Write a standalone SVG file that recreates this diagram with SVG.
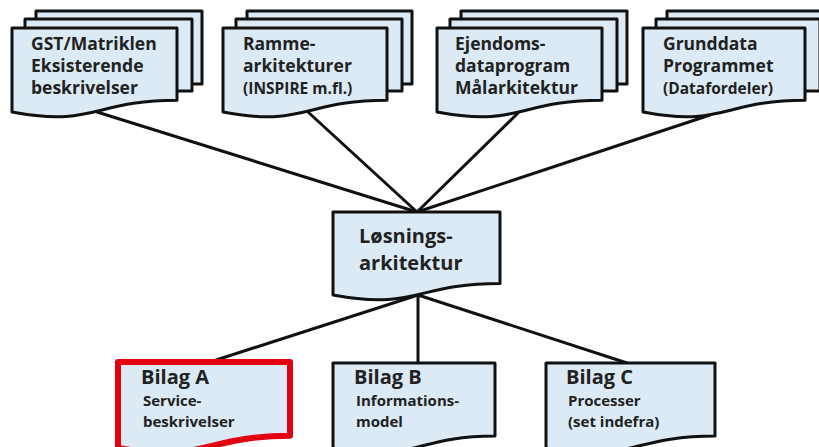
<svg xmlns="http://www.w3.org/2000/svg" width="819" height="447" viewBox="0 0 819 447">
<style>
.doc{fill:#dbeaf4;stroke:#111;stroke-width:3;stroke-linejoin:round}
.red{fill:#dbeaf4;stroke:#e3000f;stroke-width:6;stroke-linejoin:round}
.con{stroke:#111;stroke-width:3;fill:none;stroke-linecap:round}
text{font-family:"Open Sans",Lato,sans-serif;font-weight:bold;fill:#222}
.t{font-size:17.5px}
.s{font-size:15.5px}
.big{font-size:20px}
.b1{font-size:20px}
.b2{font-size:15px}
</style>
<rect width="819" height="447" fill="#fff"/>
<g id="connectors">
<line class="con" x1="97" y1="112" x2="417" y2="212"/>
<line class="con" x1="308" y1="112" x2="417" y2="212"/>
<line class="con" x1="518" y1="113" x2="417" y2="212"/>
<line class="con" x1="710" y1="115" x2="417" y2="212"/>
<line class="con" x1="418" y1="295" x2="210" y2="362"/>
<line class="con" x1="418" y1="295" x2="418" y2="363"/>
<line class="con" x1="418" y1="295" x2="627" y2="363"/>
</g>
<g id="gst">
<path class="doc" d="M36,19 V11 H202 V84 H192"/>
<path class="doc" d="M25,28 V19 H192 V91 H177"/>
<path class="doc" d="M12,28 H177 V100.2 C94.5,100.2 94.5,127.6 12,112 Z"/>
<text class="t" x="31" y="50">GST/Matriklen</text>
<text class="t" x="31" y="72">Eksisterende</text>
<text class="t" x="31" y="94">beskrivelser</text>
</g>
<g id="ramme">
<path class="doc" d="M247,19 V11 H412 V84 H402"/>
<path class="doc" d="M236,28 V19 H402 V91 H387"/>
<path class="doc" d="M223,28 H387 V100.2 C305,100.2 305,127.6 223,112 Z"/>
<text class="t" x="243" y="50">Ramme-</text>
<text class="t" x="243" y="72">arkitekturer</text>
<text class="s" x="243" y="94">(INSPIRE m.fl.)</text>
</g>
<g id="ejendom">
<path class="doc" d="M461,19 V11 H627 V84 H617"/>
<path class="doc" d="M450,28 V19 H617 V91 H602"/>
<path class="doc" d="M437,28 H602 V100.2 C519.5,100.2 519.5,127.6 437,112 Z"/>
<text class="t" x="455" y="50">Ejendoms-</text>
<text class="t" x="455" y="72">dataprogram</text>
<text class="t" x="455" y="94">Målarkitektur</text>
</g>
<g id="grunddata">
<path class="doc" d="M667,19 V11 H830 V84 H820"/>
<path class="doc" d="M656,28 V19 H820 V91 H805"/>
<path class="doc" d="M643,28 H805 V100.2 C724,100.2 724,127.6 643,112 Z"/>
<text class="t" x="663" y="50">Grunddata</text>
<text class="t" x="663" y="72">Programmet</text>
<text class="s" x="663" y="94">(Datafordeler)</text>
</g>
<g id="losning">
<path class="doc" d="M333,212 H500 V283.4 C416.5,283.4 416.5,310.5 333,295.1 Z"/>
<text class="big" x="359" y="243">Løsnings-</text>
<text class="big" x="359" y="270">arkitektur</text>
</g>
<g id="bilagA">
<path class="red" d="M118,362 H290 V435.8 C204,435.8 204,463.8 118,447.9 Z"/>
<text class="b1" x="141" y="384">Bilag A</text>
<text class="b2" x="143" y="406">Service-</text>
<text class="b2" x="143" y="427">beskrivelser</text>
</g>
<g id="bilagB">
<path class="doc" d="M333,363 H495 V436 C414,436 414,464 333,448 Z"/>
<text class="b1" x="354" y="384">Bilag B</text>
<text class="b2" x="356" y="406">Informations-</text>
<text class="b2" x="356" y="427">model</text>
</g>
<g id="bilagC">
<path class="doc" d="M546,363 H715 V436 C630.5,436 630.5,464 546,448 Z"/>
<text class="b1" x="566" y="384">Bilag C</text>
<text class="b2" x="568" y="406">Processer</text>
<text class="b2" x="568" y="427">(set indefra)</text>
</g>
</svg>
